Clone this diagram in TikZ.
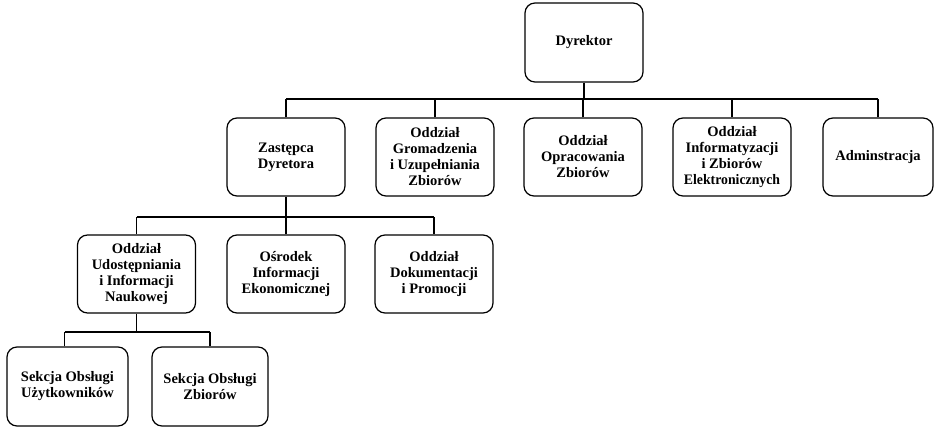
\documentclass[tikz,border=0pt]{standalone}
\usepackage{fontspec}
\setmainfont{Liberation Serif}
\begin{document}
\begin{tikzpicture}[x=1pt,y=-1pt,
  box/.style={draw, line width=1.2pt, rounded corners=10pt, minimum width=118pt, minimum height=78pt,
    inner sep=1pt, align=center, font=\fontsize{14.5}{16}\selectfont\bfseries},
  conn/.style={line width=1.2pt}]
\useasboundingbox (0,0) rectangle (935,427);
% nodes
\node[box, minimum height=79pt] (dyr) at (584,42.5) {Dyrektor};
\node[box] (zast) at (286,157) {Zastępca\\Dyretora};
\node[box] (grom) at (435,157) {Oddział\\Gromadzenia\\i Uzupełniania\\Zbiorów};
\node[box] (opr) at (583,157) {Oddział\\Opracowania\\Zbiorów};
\node[box] (inf) at (732,157) {Oddział\\Informatyzacji\\i Zbiorów\\\scalebox{0.95}[1]{Elektronicznych}};
\node[box, minimum width=110pt] (adm) at (878,157) {Adminstracja};
\node[box] (udo) at (136.5,274) {Oddział\\Udostępniania\\i Informacji\\Naukowej};
\node[box] (osr) at (286,274) {Ośrodek\\Informacji\\Ekonomicznej};
\node[box] (dok) at (434,274) {Oddział\\Dokumentacji\\i Promocji};
\node[box, minimum width=121pt, minimum height=79pt] (su) at (67.5,386.5) {Sekcja Obsługi\\Użytkowników};
\node[box, minimum width=116pt, minimum height=79pt] (sz) at (210,386.5) {Sekcja Obsługi\\Zbiorów};
% bus coordinates
\coordinate (b1) at (0,99);
\coordinate (b2) at (0,217);
\coordinate (b3) at (0,332);
% level 1
\draw[conn] (dyr.south) -- (dyr.south |- b1);
\draw[conn] (zast.north |- b1) -- (adm.north |- b1);
\foreach \n in {zast,grom,opr,inf,adm} \draw[conn] (\n.north) -- (\n.north |- b1);
% level 2
\draw[conn] (zast.south) -- (zast.south |- b2);
\draw[conn] (udo.north |- b2) -- (dok.north |- b2);
\foreach \n in {udo,osr,dok} \draw[conn] (\n.north) -- (\n.north |- b2);
% level 3
\draw[conn] (udo.south) -- (udo.south |- b3);
\draw[conn] ([xshift=-3pt]su.north |- b3) -- (sz.north |- b3);
\draw[conn] ([xshift=-3pt]su.north) -- ([xshift=-3pt]su.north |- b3);
\draw[conn] (sz.north) -- (sz.north |- b3);
\end{tikzpicture}
\end{document}
